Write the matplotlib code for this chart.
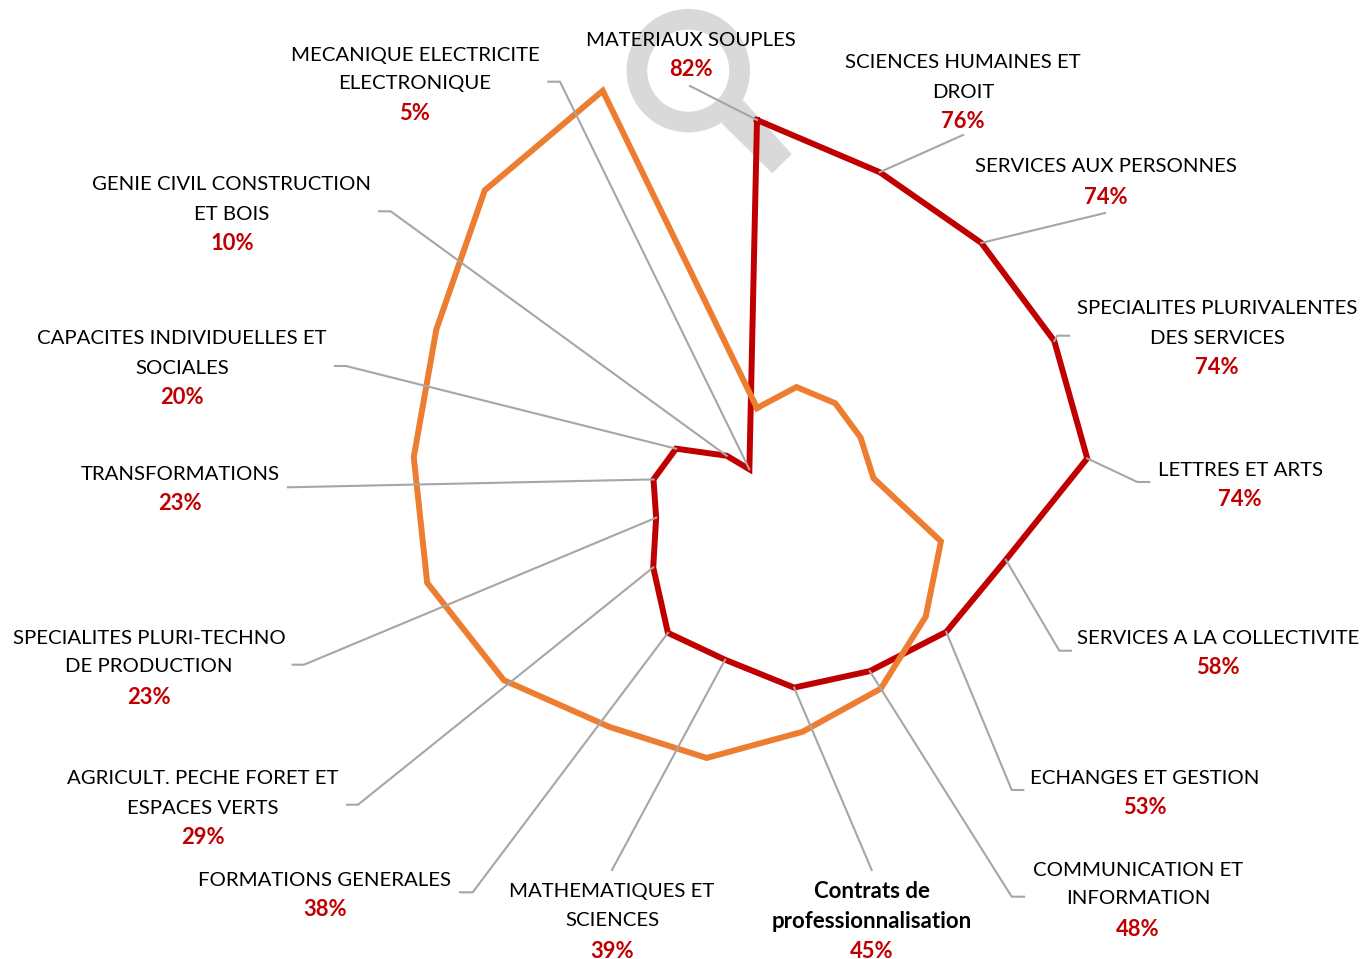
import numpy as np
import matplotlib
matplotlib.use("Agg")
import matplotlib.pyplot as plt
from matplotlib.patches import Polygon, Wedge

categories = ["MATERIAUX SOUPLES", "SCIENCES HUMAINES ET\nDROIT", "SERVICES AUX PERSONNES",
              "SPECIALITES PLURIVALENTES\nDES SERVICES", "LETTRES ET ARTS", "SERVICES A LA COLLECTIVITE",
              "ECHANGES ET GESTION", "COMMUNICATION ET\nINFORMATION", "Contrats de\nprofessionnalisation",
              "MATHEMATIQUES ET\nSCIENCES", "FORMATIONS GENERALES", "AGRICULT. PECHE FORET ET\nESPACES VERTS",
              "SPECIALITES PLURI-TECHNO\nDE PRODUCTION", "TRANSFORMATIONS", "CAPACITES INDIVIDUELLES ET\nSOCIALES",
              "GENIE CIVIL CONSTRUCTION\nET BOIS", "MECANIQUE ELECTRICITE\nELECTRONIQUE"]
red_values = [82.0, 75.5, 74.0, 73.8, 73.7, 57.5, 52.7, 47.6, 44.9, 38.6, 37.6, 28.9, 23.3, 23.1, 20.1, 10.0, 4.7]
orange_values = [18.0, 24.3, 25.8, 25.7, 26.0, 42.5, 47.0, 52.2, 54.9, 60.8, 62.2, 70.5, 76.2, 76.6, 79.6, 89.8, 94.9]
percent_labels = ["82%", "76%", "74%", "74%", "74%", "58%", "53%", "48%", "45%",
                  "39%", "38%", "29%", "23%", "23%", "20%", "10%", "5%"]

W, H = 1363, 959
CX, CY, R = 757, 489, 450
RED, ORANGE, GREY, ICON = "#C00000", "#ED7D31", "#A6A6A6", "#D9D9D9"
FONT = "Lato"
FS = 14.7
FS_BOLD = 16.0

# text layout: x centre, y of each line, y of the percentage (pixels)
text_layout = [
    (691, [41], 71), (963, [62, 92], 122), (1106, [167], 198), (1217, [309, 338], 369),
    (1240, [470], 500), (1218, [639], 669), (1145, [778], 808), (1138, [870, 899], 930),
    (872, [892, 921], 952), (612, [892, 921], 952), (325, [880], 911), (203, [778, 808], 838),
    (149, [638, 667], 698), (180, [475], 505), (182, [339, 369], 399), (232, [185, 214], 245),
    (415, [55, 84], 115)]
# leader paths from the label to the elbow (pixels); the last point is the data vertex
leader_layout = [
    [(690, 86)], [(963, 135)], [(1105, 213)], [(1069, 335.7), (1057.3, 335.7)],
    [(1149.3, 482), (1137.3, 482)], [(1071, 650.7), (1059.3, 650.7)], [(1023.3, 790), (1011.7, 790)],
    [(1024, 896.7), (1011.7, 896.7)], [(871.7, 870)], [(612, 870)], [(460, 892.3), (472.7, 892.3)],
    [(347, 804.7), (358, 804.7)], [(292.7, 664.7), (304, 664.7)], [(288, 487.3)], [(335, 366), (346, 366)],
    [(379, 211.3), (390.7, 211.3)], [(548.3, 81.7), (560, 81.7)]]

fig = plt.figure(figsize=(W / 100, H / 100), dpi=100, facecolor="white")


def overlay(z):
    a = fig.add_axes([0, 0, 1, 1], zorder=z)
    a.set_xlim(0, W)
    a.set_ylim(H, 0)
    a.axis("off")
    a.patch.set_alpha(0)
    return a


back = overlay(0)
front = overlay(2)

# magnifier icon
back.add_patch(Polygon([(743, 100), (791.7, 154), (772.3, 173.3), (721.7, 123.3)], closed=True, fc=ICON, ec="none"))
back.add_patch(Wedge((688.3, 70.7), 61.7, 0, 360, width=20.7, fc=ICON, ec="none"))

ax = fig.add_axes([(CX - R) / W, (H - CY - R) / H, 2 * R / W, 2 * R / H], projection="polar", zorder=1)
ax.set_theta_zero_location("N")
ax.set_theta_direction(-1)
ax.set_ylim(0, 100)
ax.axis("off")
ax.patch.set_alpha(0)

theta = np.arange(len(categories)) * 2 * np.pi / len(categories)
tc = np.append(theta, theta[0])
ax.plot(tc, red_values + red_values[:1], color=RED, lw=4.3, solid_joinstyle="miter", clip_on=False, zorder=2)
ax.plot(tc, orange_values + orange_values[:1], color=ORANGE, lw=4.3, solid_joinstyle="miter", clip_on=False, zorder=3)

fig.canvas.draw()
to_px = front.transData.inverted()
for i, path in enumerate(leader_layout):
    vx, vy = to_px.transform(ax.transData.transform((theta[i], red_values[i])))
    xs = [p[0] for p in path] + [vx]
    ys = [p[1] for p in path] + [vy]
    front.plot(xs, ys, color=GREY, lw=1.5, solid_joinstyle="miter", zorder=4)

for name, pct, (x, ys, yp) in zip(categories, percent_labels, text_layout):
    bold = name.startswith("Contrats")
    for line, y in zip(name.split("\n"), ys):
        front.text(x, y, line, ha="center", va="center", family=FONT, fontsize=FS_BOLD if bold else FS,
                   color="black", fontweight="bold" if bold else "normal", zorder=5)
    front.text(x, yp - 1, pct, ha="center", va="center", family=FONT, fontsize=FS_BOLD - 0.2,
               color=RED, fontweight="bold", zorder=5)

fig.savefig("out.png", dpi=100, facecolor="white")
